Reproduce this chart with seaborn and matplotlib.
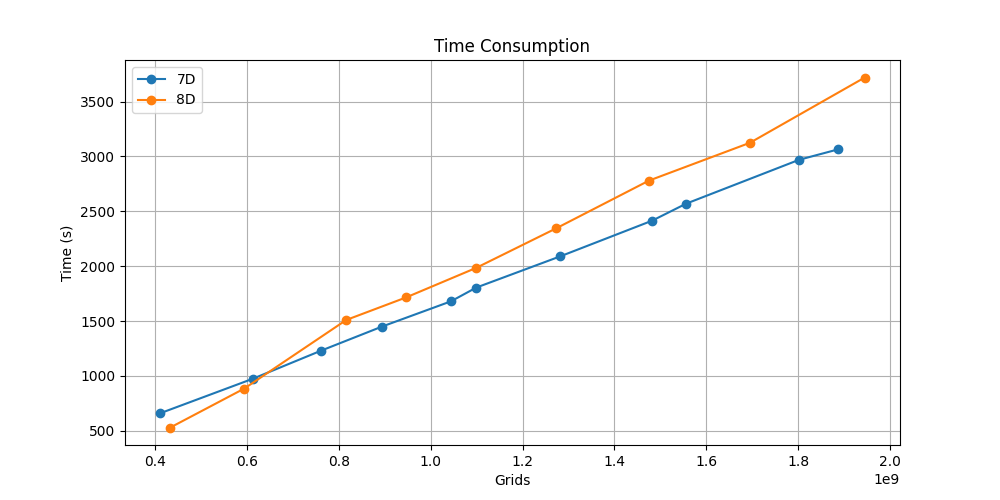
import matplotlib
matplotlib.use("Agg")
import matplotlib.pyplot as plt
import seaborn as sns
import numpy as np

grids_7d = [0.411e9, 0.613e9, 0.761e9, 0.894e9, 1.044e9, 1.099e9, 1.282e9, 1.482e9, 1.556e9, 1.802e9, 1.887e9]
time_7d = [660, 975, 1230, 1450, 1680, 1805, 2090, 2415, 2570, 2970, 3065]
grids_8d = [0.433e9, 0.594e9, 0.816e9, 0.946e9, 1.099e9, 1.273e9, 1.475e9, 1.695e9, 1.945e9]
time_8d = [530, 885, 1510, 1715, 1985, 2345, 2780, 3125, 3720]

series = [("7D", grids_7d, time_7d, "#1f77b4"), ("8D", grids_8d, time_8d, "#ff7f0e")]

fig, ax = plt.subplots(figsize=(10, 5), dpi=100)
for name, xs, ys, c in series:
    sns.lineplot(x=xs, y=ys, ax=ax, color=c, marker="o", markersize=6,
                 markeredgecolor=c, markeredgewidth=1, label=name, sort=False,
                 linewidth=1.5)

ax.set_title("Time Consumption")
ax.set_xlabel("Grids")
ax.set_ylabel("Time (s)")
ax.grid(True)
ax.legend(loc="upper left")
fig.savefig("out.png", dpi=100)
